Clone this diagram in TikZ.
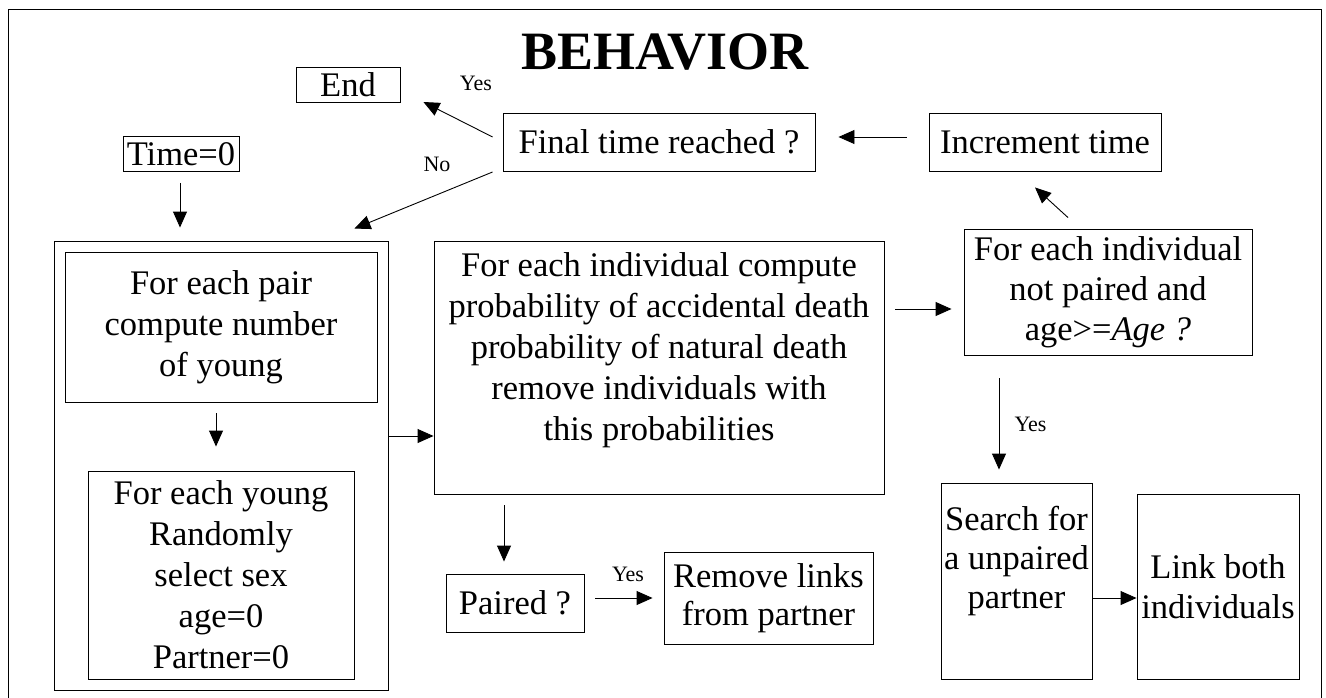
\documentclass[tikz,border=0pt]{standalone}
\usepackage{fontspec}
\setmainfont{Liberation Serif}
\usetikzlibrary{calc,arrows.meta}
\begin{document}
\begin{tikzpicture}[x=1pt,y=-1pt,
  box/.style={draw,line width=0.9pt,inner sep=0pt,align=center,font=\fontsize{34.5}{41}\selectfont},
  txt/.style={inner sep=0pt,align=center,font=\fontsize{34.5}{41}\selectfont},
  lab/.style={inner sep=0pt,font=\fontsize{22}{26}\selectfont},
  arr/.style={line width=0.9pt,-{Triangle[length=16pt,width=14pt]}}]
\useasboundingbox (0,0) rectangle (1326,698);
% frame
\draw[line width=1pt] (8,698) -- (8,10) -- (1321,10) -- (1321,698);
% title
\node[inner sep=0pt,font=\fontsize{54}{60}\selectfont\bfseries] (title) at (665,52) {BEHAVIOR};
% boxes
\node[box,minimum width=104pt,minimum height=35pt] (endb) at (348,85) {End};
\node[box,minimum width=116pt,minimum height=35pt] (timeb) at (181,154) {Time=0};
\node[box,minimum width=312pt,minimum height=58pt] (final) at (659,142) {Final time reached ?};
\node[box,minimum width=232pt,minimum height=58pt] (inc) at (1045,142) {Increment time};
\node[box,minimum width=334pt,minimum height=449pt] (leftbox) at (221,465.5) {};
\node[box,minimum width=312pt,minimum height=150pt] (topin) at (221,327) {For each pair\\compute number\\of young};
\node[box,minimum width=266pt,minimum height=208pt] (botin) at (221,575) {For each young\\Randomly\\select sex\\age=0\\Partner=0};
\node[box,minimum width=450pt,minimum height=253pt] (mid) at (659,367.5) {};
\node[txt] (midtxt) at (659,350) {For each individual compute\\probability of accidental death\\probability of natural death\\remove individuals with\\this probabilities};
\node[box,minimum width=138pt,minimum height=58pt] (paired) at (515,603) {Paired ?};
\node[box,minimum width=209pt,minimum height=92pt,font=\fontsize{34.5}{38}\selectfont] (remove) at (768.5,598) {Remove links\\from partner};
\node[box,minimum width=288pt,minimum height=126pt,font=\fontsize{34.5}{40}\selectfont] (indiv) at (1108,292) {For each individual\\not paired and\\age>=\textit{Age ?}};
\node[box,minimum width=151pt,minimum height=196pt] (search) at (1016.5,581) {};
\node[txt,font=\fontsize{34.5}{39}\selectfont] (searchtxt) at (1016.5,561) {Search for\\a unpaired\\partner};
\node[box,minimum width=162pt,minimum height=185pt,font=\fontsize{34.5}{40}\selectfont] (link) at (1218,586.5) {Link both\\individuals};
% labels
\node[lab] (yes1) at (476,83.5) {Yes};
\node[lab] (no1) at (437,164.5) {No};
\node[lab] (yes2) at (628,574) {Yes};
\node[lab] (yes3) at (1030.5,424) {Yes};
% arrows
\draw[arr] ($(final.west)+(-10,-5)$) -- ($(endb.east)+(23,17)$);
\draw[arr] ($(final.west)+(-10,30)$) -- ($(leftbox.north east)+(-34,-12)$);
\draw[arr] ($(inc.west)+(-22,-5)$) -- ($(final.east)+(23,-5)$);
\draw[arr] ($(indiv.north)+(-40,-11)$) -- ($(inc.south)+(-10,16)$);
\draw[arr] ($(timeb.south)+(-1,11)$) -- ($(timeb.south |- leftbox.north)+(-1,-13)$);
\draw[arr] ($(topin.south)+(-5,11)$) -- ($(botin.north)+(-5,-24)$);
\draw[arr] ($(leftbox.east)+(0,-29.5)$) -- ($(mid.west)+(0,68.5)$);
\draw[arr] ($(mid.east)+(11,-58.5)$) -- ($(indiv.west)+(-12,17)$);
\draw[arr] ($(mid.south)+(-155,11)$) -- ($(paired.north)+(-11,-12)$);
\draw[arr] ($(paired.east)+(11,-5)$) -- ($(remove.west)+(-11,0)$);
\draw[arr] ($(indiv.south)+(-109,23)$) -- ($(search.north)+(-17.5,-13)$);
\draw[arr] ($(search.east)+(0,17)$) -- ($(link.west)+(0,11.5)$);
\end{tikzpicture}
\end{document}
